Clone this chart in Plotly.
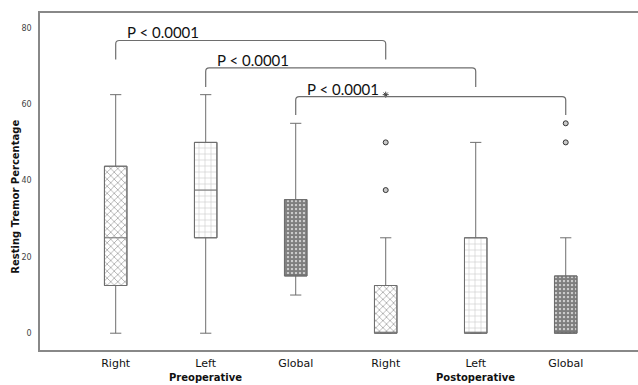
import plotly.graph_objects as go

# ---- data ----
categories = ["Right", "Left", "Global", "Right", "Left", "Global"]
groups = ["Preoperative", "Postoperative"]
group_centers = [1, 4]
lower = [0, 0, 10, 0, 0, 0]
q1 = [12.5, 25, 15, 0, 0, 0]
median = [25, 37.5, 15, 0, 0, 0]
q3 = [43.75, 50, 35, 12.5, 25, 15]
upper = [62.5, 62.5, 55, 25, 50, 25]
outlier_x = [3, 3, 5, 5]
outlier_y = [50, 37.5, 55, 50]
extreme_x = [3]
extreme_y = [62.5]
patterns = ["x", "+", ".", "x", "+", "."]
pattern_fg = ["#555", "#777", "#000", "#555", "#777", "#000"]
pattern_size = [5, 6, 4, 5, 6, 4]
pattern_solid = [0.3, 0.15, 0.8, 0.3, 0.15, 0.8]

br_start = [0, 1, 2]
br_end = [3, 4, 5]
br_top = [76.7, 69.5, 62.0]
br_leg = [71.7, 64.5, 57.2]
br_label = ["P < 0.0001", "P < 0.0001", "P < 0.0001"]

y_ticks = [0, 20, 40, 60, 80]
y_title = "Resting Tremor Percentage"

pos = list(range(len(categories)))
gray = "#6e6e6e"

fig = go.Figure()

fig.add_trace(go.Bar(
    x=pos, y=[b - a for a, b in zip(q1, q3)], base=q1, width=0.25,
    marker=dict(color="white", line=dict(color=gray, width=1),
                pattern=dict(shape=patterns, fgcolor=pattern_fg, bgcolor="white",
                             size=pattern_size, solidity=pattern_solid, fillmode="overlay")),
    showlegend=False, hoverinfo="skip"))

fig.add_trace(go.Box(
    x=pos, q1=q1, median=median, q3=q3, lowerfence=lower, upperfence=upper,
    width=0.25, whiskerwidth=0.5, fillcolor="rgba(0,0,0,0)",
    line=dict(color=gray, width=1), showlegend=False, boxpoints=False))

fig.add_trace(go.Scatter(
    x=outlier_x, y=outlier_y, mode="markers",
    marker=dict(symbol="circle", size=5, color="#c8c8c8", line=dict(color="#333", width=1)),
    showlegend=False))
fig.add_trace(go.Scatter(
    x=extreme_x, y=extreme_y, mode="markers",
    marker=dict(symbol="asterisk-open", size=5, color="#444", line=dict(color="#444", width=1)),
    showlegend=False))

dx, dy = 0.04, 0.9
for x0, x1, yt, yb, lab in zip(br_start, br_end, br_top, br_leg, br_label):
    path = (f"M {x0} {yb} L {x0} {yt - dy} Q {x0} {yt} {x0 + dx} {yt} "
            f"L {x1 - dx} {yt} Q {x1} {yt} {x1} {yt - dy} L {x1} {yb}")
    fig.add_shape(type="path", path=path, xref="x", yref="y",
                  line=dict(color=gray, width=1.2))
    fig.add_annotation(x=x0, y=yt, xref="x", yref="y", text=lab, showarrow=False,
                       xanchor="left", yanchor="bottom", xshift=9, yshift=-3,
                       font=dict(family="Lato", size=15, color="#111"))

for g, c in zip(groups, group_centers):
    fig.add_annotation(x=c, y=-0.082, xref="x", yref="paper", text=f"<b>{g}</b>",
                       showarrow=False, xanchor="center", yanchor="middle",
                       font=dict(family="DejaVu Sans", size=10, color="#111"))

fig.add_annotation(x=-24 / 598, y=(333.3 - 180) / 337, xref="paper", yref="paper",
                   text=f"<b>{y_title}</b>", textangle=-90, showarrow=False,
                   xanchor="center", yanchor="middle",
                   font=dict(family="DejaVu Sans", size=10, color="#111"))

fig.update_layout(
    width=638, height=385, plot_bgcolor="white", paper_bgcolor="white",
    margin=dict(l=40, r=0, t=13, b=35), barmode="overlay",
    xaxis=dict(range=[-0.841, 5.803], tickvals=pos, ticktext=categories,
               showline=True, linecolor="#888", linewidth=1.5, mirror=True,
               showgrid=False, zeroline=False, ticks="", ticklabelstandoff=2,
               tickfont=dict(family="DejaVu Sans", size=11, color="#111")),
    yaxis=dict(range=[-4.4, 83.9], tickvals=y_ticks, showline=True, linecolor="#888",
               linewidth=1.5, showgrid=False, zeroline=False, ticks="",
               ticklabelstandoff=5,
               tickfont=dict(family="DejaVu Sans", size=8, color="#444")),
)

fig.write_html("out.html")
